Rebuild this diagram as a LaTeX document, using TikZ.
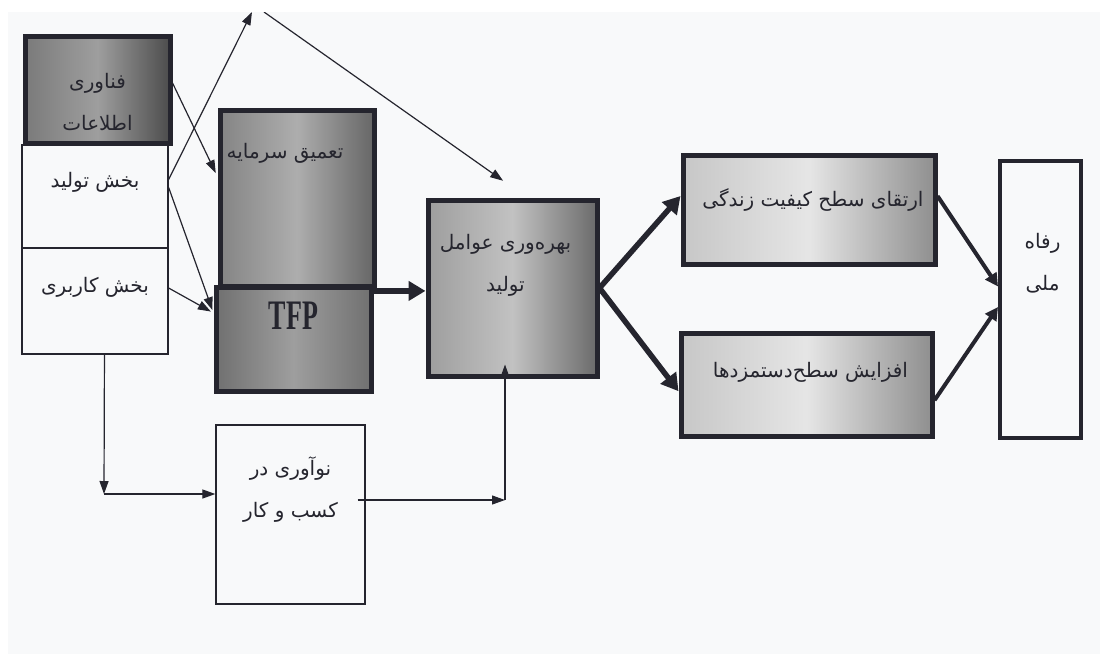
\documentclass[tikz,border=0pt]{standalone}
\usepackage{fontspec}
\usetikzlibrary{arrows.meta}
\newfontfamily\farsifont[Script=Arabic]{DejaVu Sans}
\newfontfamily\tfpfont[FakeStretch=0.62]{Liberation Serif}
\TeXXeTstate=1
\definecolor{paper}{HTML}{F8F9FA}
\definecolor{ink}{HTML}{25252E}

\begin{document}
\begin{tikzpicture}[x=1pt, y=-1pt,
    darkbox/.style={draw=ink, line width=5pt, inner sep=0pt},
    whitebox/.style={draw=ink, line width=1.3pt, inner sep=0pt, fill=paper},
    txt/.style={font=\farsifont\fontsize{20}{42}\selectfont, align=center, text=ink, inner sep=0pt},
    slimarrow/.style={draw=ink, line width=1.2pt, -{Triangle[length=13pt, width=9pt]}},
    midarrow/.style={draw=ink, line width=4pt, -{Triangle[length=13pt, width=13pt]}},
    boldarrow/.style={draw=ink, line width=5.5pt, -{Triangle[length=17pt, width=19pt]}}]
      \useasboundingbox (0,0) rectangle (1100,654);
      \fill[paper] (0,0) rectangle (1100,654);
      \fill[white] (0,0) rectangle (8,654);

      \node[whitebox, minimum width=146, minimum height=103, label={[txt, yshift=14.5pt]center:{\beginR بخش تولید\endR}}] (prod) at (95,196.5) {};
      \node[whitebox, minimum width=146, minimum height=106, label={[txt, yshift=14pt]center:{\beginR بخش کاربری\endR}}] (use) at (95,301) {};
      \node[darkbox, minimum width=145, minimum height=107, left color=black!52, right color=black!70, middle color=black!38, label={[txt, yshift=-12pt]center:{\beginR فناوری\endR\\\beginR اطلاعات\endR}}] (it) at (97.5,89.5) {};
      \node[darkbox, minimum width=154, minimum height=176, left color=black!48, right color=black!60, middle color=black!32, label={[txt, xshift=-12pt, yshift=45pt]center:{\beginR تعمیق سرمایه\endR}}] (deep) at (297,198) {};
      \node[darkbox, minimum width=155, minimum height=104, left color=black!56, right color=black!56, middle color=black!38, label={[font=\tfpfont\bfseries\fontsize{42}{42}\selectfont, text=ink, yshift=23pt]center:TFP}] (tfp) at (293.5,339) {};
      \node[darkbox, minimum width=169, minimum height=176, left color=black!38, right color=black!58, middle color=black!24, label={[txt, xshift=-7pt, yshift=23pt]center:{\beginR بهره^^^^200cوری عوامل\endR\\\beginR تولید\endR}}] (prodf) at (512.5,288) {};
      \node[darkbox, minimum width=252, minimum height=109, left color=black!22, right color=black!44, middle color=black!10, label={[txt, xshift=4pt, yshift=9.5pt]center:{\beginR ارتقای سطح کیفیت زندگی\endR}}] (life) at (809,209.5) {};
      \node[darkbox, minimum width=251, minimum height=103, left color=black!22, right color=black!44, middle color=black!10, label={[txt, xshift=4pt, yshift=12.5pt]center:{\beginR افزایش سطح^^^^200cدستمزدها\endR}}] (wage) at (806.5,384.5) {};
      \node[whitebox, line width=4pt, minimum width=81, minimum height=277, label={[txt, xshift=2pt, yshift=36.5pt]center:{\beginR رفاه\endR\\\beginR ملی\endR}}] (welf) at (1040.5,299.5) {};
      \node[whitebox, minimum width=149, minimum height=179, label={[txt, yshift=24.5pt]center:{\beginR نوآوری در\endR\\\beginR کسب و کار\endR}}] (innov) at (290.5,514.5) {};

      \coordinate (top1) at (252,12);
      \coordinate (top2) at (264,12);
      \coordinate (c1) at (104,494);
      \coordinate (c2) at (505,500);

      \draw[slimarrow, shorten >=4pt] (it.5) -- (deep.165);
      \draw[slimarrow] (prod.13) -- (top1);
      \draw[slimarrow, shorten >=29pt] (top2) -- (prodf.81);
      \draw[slimarrow, shorten >=3pt] (prod.7) -- (tfp.162);
      \draw[slimarrow, shorten >=3pt] (use.10) -- (tfp.162);
      \draw[boldarrow] (tfp.31) -- (tfp.31 -| prodf.west);
      \draw[boldarrow] (prodf.east) -- (life.174);
      \draw[boldarrow] (prodf.east) -- (wage.183);
      \draw[midarrow] (life.6) -- (welf.163);
      \draw[midarrow] (wage.-7) -- (welf.190);
      \draw[slimarrow] (use.-80) -- (c1);
      \draw[slimarrow] (c1) -- (c1 -| innov.west);
      \draw[slimarrow] (c2 -| innov.east) ++(-8,0) -- (c2);
      \draw[slimarrow, shorten >=-14pt] (c2) -- (c2 |- prodf.south);

      \fill[white] (0,0) rectangle (1100,12);
    \end{tikzpicture}
\end{document}
